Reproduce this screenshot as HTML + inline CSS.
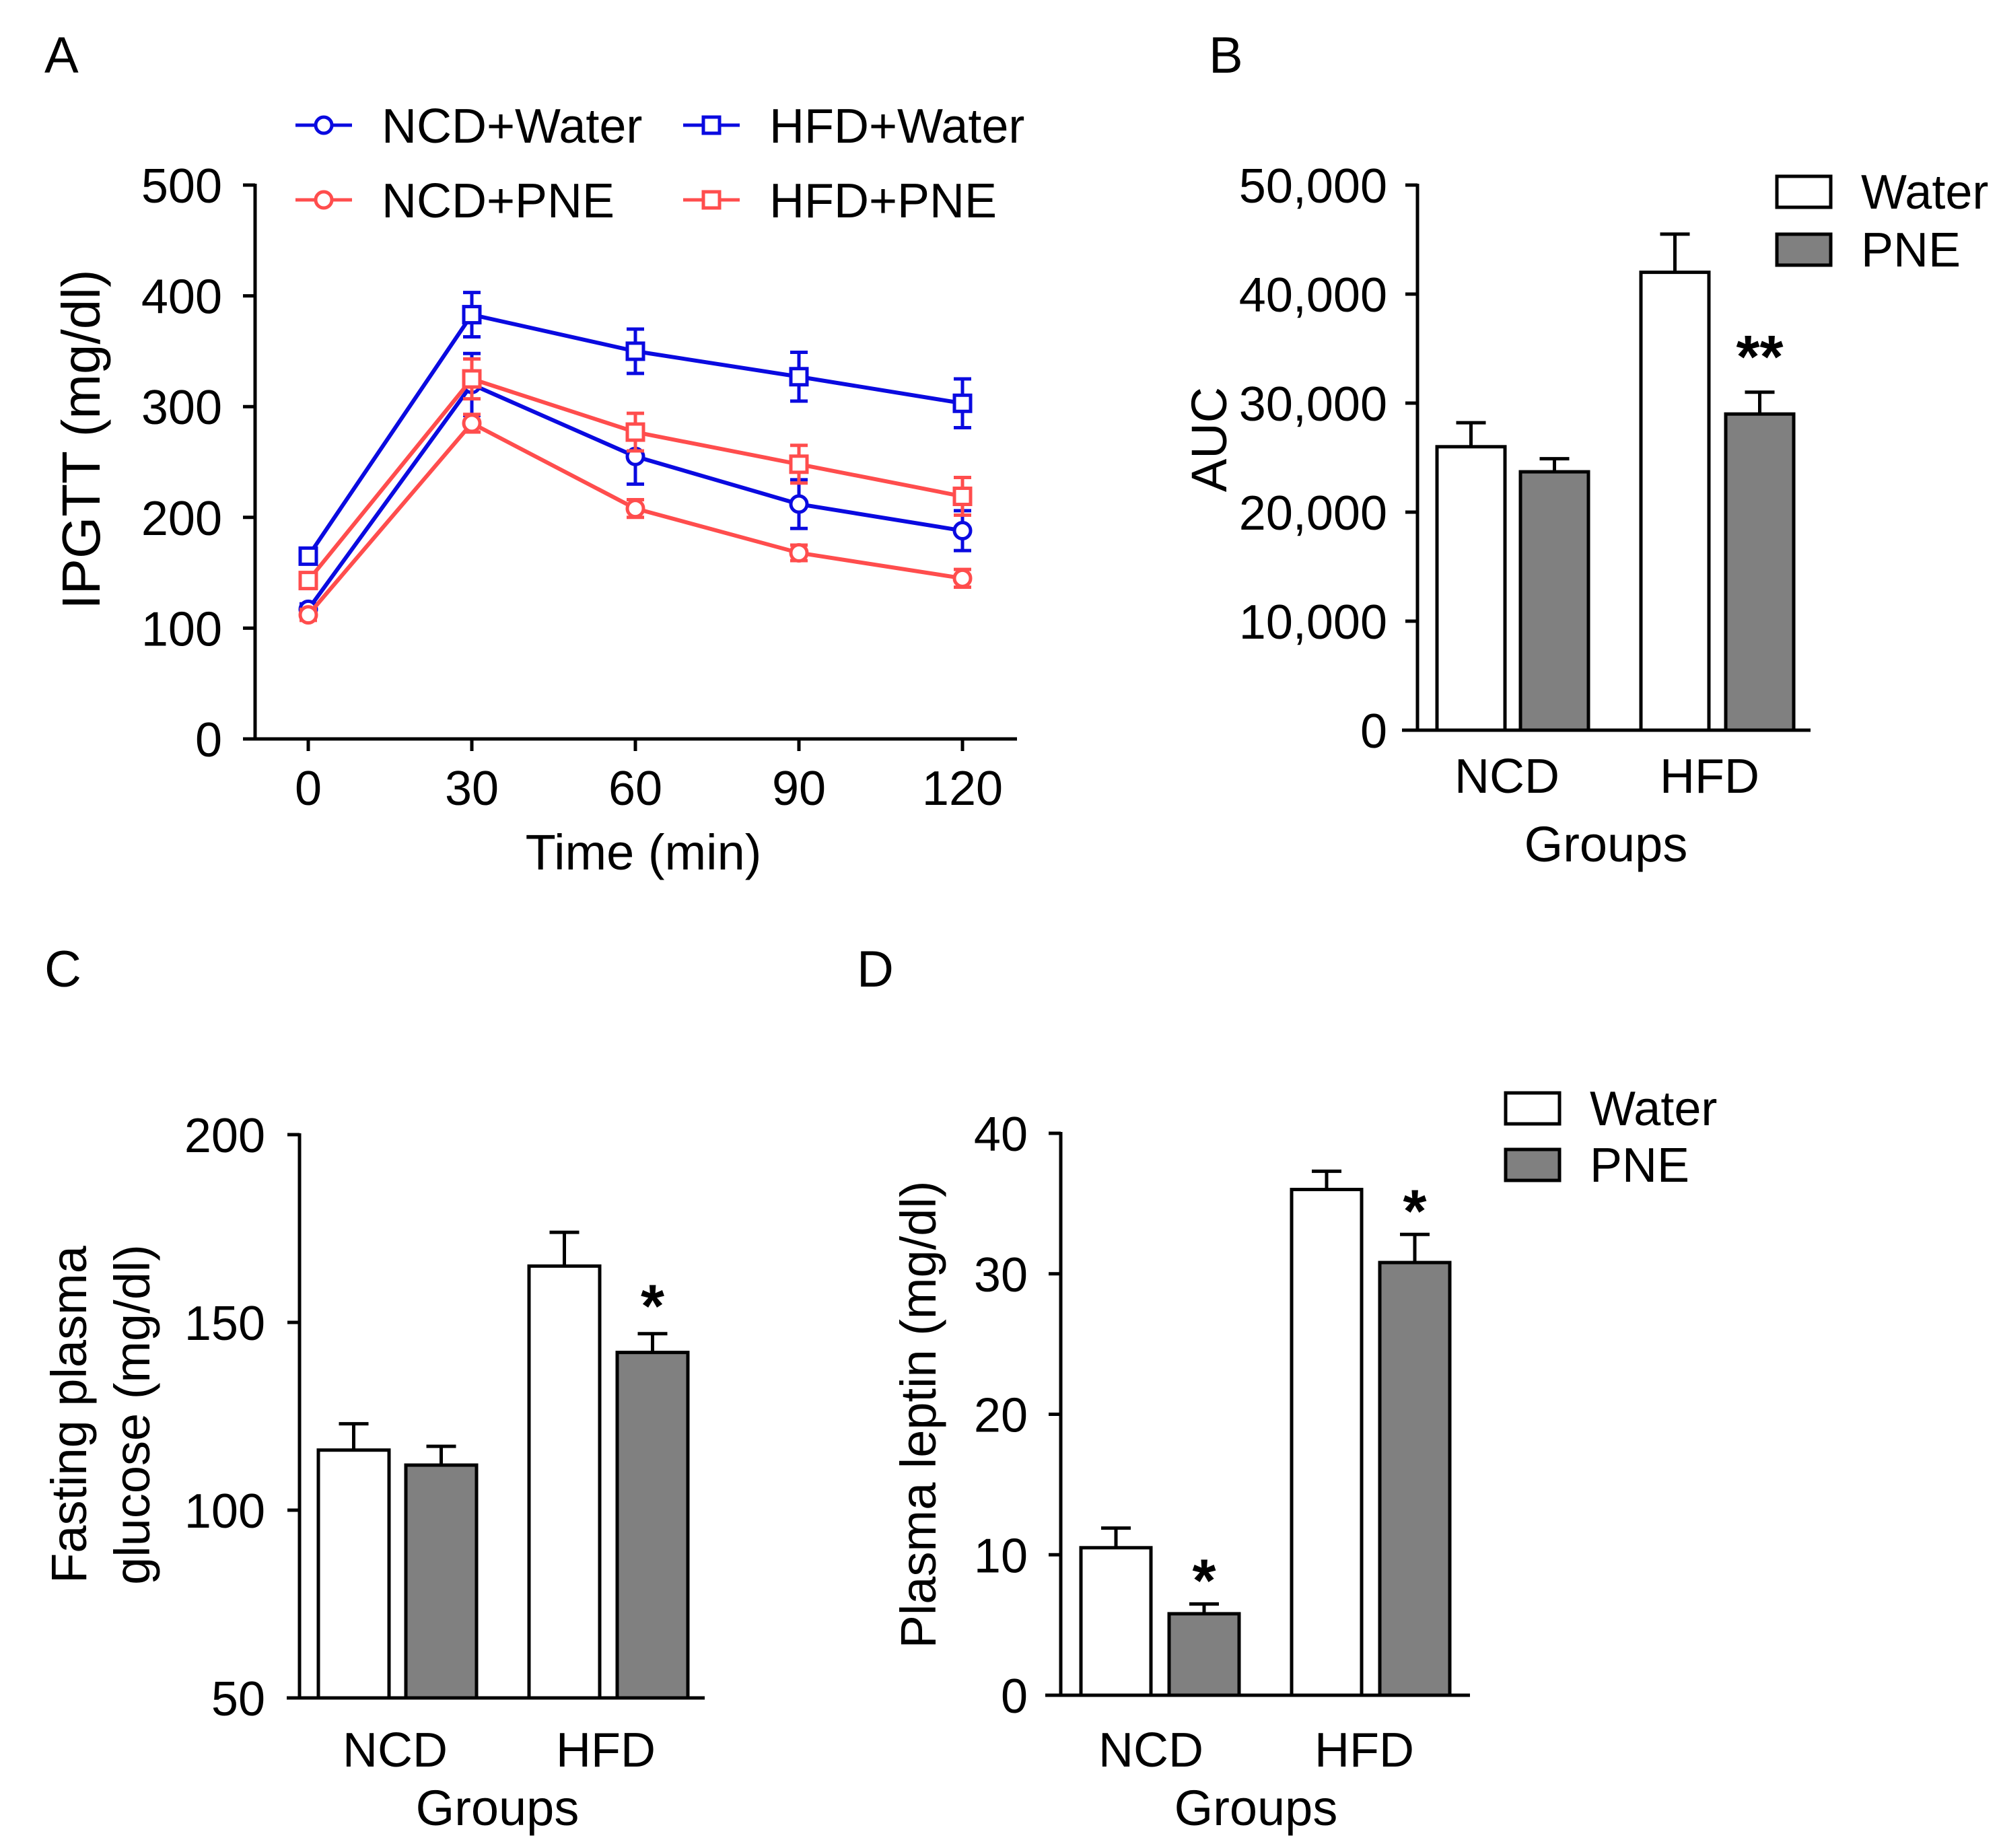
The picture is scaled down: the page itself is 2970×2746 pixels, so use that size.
<!DOCTYPE html>
<html><head><meta charset="utf-8">
<style>
html,body{margin:0;padding:0;background:#fff;}
svg{display:block;font-family:"Liberation Sans",Arial,sans-serif;}
</style></head>
<body>
<svg id="fig" width="2970" height="2746" viewBox="0 0 2970 2746" xmlns="http://www.w3.org/2000/svg"></svg>
<script>
// ---- Panel A data ----
const timePoints = [0, 30, 60, 90, 120];
const ncdWater = [117, 320, 255, 212, 188];
const ncdWaterErr = [5, 28, 25, 22, 18];
const hfdWater = [165, 383, 350, 327, 303];
const hfdWaterErr = [5, 20, 20, 22, 22];
const ncdPne = [112, 285, 208, 168, 145];
const ncdPneErr = [5, 8, 8, 7, 8];
const hfdPne = [143, 325, 277, 248, 219];
const hfdPneErr = [5, 18, 17, 17, 17];
const aTicks = [0, 100, 200, 300, 400, 500];
// ---- Panel B data ----
const groups = ["NCD", "HFD"];
const aucWater = [26000, 42000];
const aucWaterErr = [2200, 3500];
const aucPne = [23700, 29000];
const aucPneErr = [1200, 2000];
const aucStars = ["", "**"];
const bTicks = [0, 10000, 20000, 30000, 40000, 50000];
const bTickLabels = ["0", "10,000", "20,000", "30,000", "40,000", "50,000"];
// ---- Panel C data ----
const gluWater = [116, 165];
const gluWaterErr = [7, 9];
const gluPne = [112, 142];
const gluPneErr = [5, 5];
const gluStars = ["", "*"];
const cTicks = [50, 100, 150, 200];
// ---- Panel D data ----
const lepWater = [10.5, 36];
const lepWaterErr = [1.4, 1.3];
const lepPne = [5.8, 30.8];
const lepPneErr = [0.7, 2];
const lepStars = ["*", "*"];
const dTicks = [0, 10, 20, 30, 40];

const NS = "http://www.w3.org/2000/svg";
const svg = document.getElementById("fig");
function el(tag, attrs, parent, txt) {
  const e = document.createElementNS(NS, tag);
  for (const k in attrs) e.setAttribute(k, attrs[k]);
  if (txt !== undefined) e.textContent = txt;
  (parent || svg).appendChild(e);
  return e;
}
function grp(name) {
  const g = document.createElementNS(NS, "g");
  
  
  svg.appendChild(g);
  return g;
}
function label(g, name, x, y, s, size, anchor, rot) {
  const t = el("text", {x: x, y: y, "font-size": size, "text-anchor": anchor || "middle", fill: "#000"}, g, s);
  if (rot) t.setAttribute("transform", "rotate(-90 " + x + " " + y + ")");
  
  
  return t;
}
const LW = 5;

// ================= Panel A =================
(function () {
  const g = grp("panel-a-ipgtt");
  const x0 = 379, xEnd = 1511, yBase = 1098, yTop = 275;
  const xs = t => 458 + (t / 30) * 243;
  const ys = v => yBase - (v / 500) * (yBase - yTop);
  label(g, "panel-a-letter", 66, 108, "A", 76, "start");
  el("line", {x1: x0, y1: yTop - 2, x2: x0, y2: yBase + 2, stroke: "#000", "stroke-width": LW}, g);
  el("line", {x1: x0 - 2, y1: yBase, x2: xEnd, y2: yBase, stroke: "#000", "stroke-width": LW}, g);
  aTicks.forEach(v => {
    el("line", {x1: x0 - 18, y1: ys(v), x2: x0, y2: ys(v), stroke: "#000", "stroke-width": LW}, g);
    label(g, "y-tick-label", 330, ys(v) + 26, String(v), 72, "end");
  });
  timePoints.forEach(t => {
    el("line", {x1: xs(t), y1: yBase, x2: xs(t), y2: yBase + 18, stroke: "#000", "stroke-width": LW}, g);
    label(g, "x-tick-label", xs(t), 1196, String(t), 72);
  });
  label(g, "x-axis-title", 956, 1292, "Time (min)", 74);
  label(g, "y-axis-title", 148, 653, "IPGTT (mg/dl)", 80, "middle", true);

  const BLUE = "#0a0ae0", RED = "#ff4d4d";
  const series = [
    {name: "ncd-water", vals: ncdWater, err: ncdWaterErr, c: BLUE, m: "circle"},
    {name: "ncd-pne", vals: ncdPne, err: ncdPneErr, c: RED, m: "circle"},
    {name: "hfd-pne", vals: hfdPne, err: hfdPneErr, c: RED, m: "square"},
    {name: "hfd-water", vals: hfdWater, err: hfdWaterErr, c: BLUE, m: "square"}
  ];
  function marker(sg, m, cx, cy, c) {
    if (m === "circle") el("circle", {cx: cx, cy: cy, r: 12, fill: "#fff", stroke: c, "stroke-width": 5}, sg);
    else el("rect", {x: cx - 12, y: cy - 12, width: 24, height: 24, fill: "#fff", stroke: c, "stroke-width": 5}, sg);
  }
  series.forEach(s => {
    const sg = el("g", {}, g);
    
    
    const pts = timePoints.map((t, i) => xs(t) + "," + ys(s.vals[i])).join(" ");
    el("polyline", {points: pts, fill: "none", stroke: s.c, "stroke-width": 6}, sg);
    timePoints.forEach((t, i) => {
      const x = xs(t), yh = ys(s.vals[i] + s.err[i]), yl = ys(s.vals[i] - s.err[i]);
      el("line", {x1: x, y1: yh, x2: x, y2: yl, stroke: s.c, "stroke-width": LW}, sg);
      el("line", {x1: x - 13, y1: yh, x2: x + 13, y2: yh, stroke: s.c, "stroke-width": LW}, sg);
      el("line", {x1: x - 13, y1: yl, x2: x + 13, y2: yl, stroke: s.c, "stroke-width": LW}, sg);
      marker(sg, s.m, x, ys(s.vals[i]), s.c);
    });
  });
  const leg = [
    {t: "NCD+Water", c: BLUE, m: "circle", x: 439, y: 186},
    {t: "NCD+PNE", c: RED, m: "circle", x: 439, y: 297},
    {t: "HFD+Water", c: BLUE, m: "square", x: 1015, y: 186},
    {t: "HFD+PNE", c: RED, m: "square", x: 1015, y: 297}
  ];
  leg.forEach(l => {
    const lg = el("g", {}, g);
    
    
    el("line", {x1: l.x, y1: l.y, x2: l.x + 84, y2: l.y, stroke: l.c, "stroke-width": LW}, lg);
    marker(lg, l.m, l.x + 42, l.y, l.c);
    label(lg, "legend-label", l.x + 128, l.y + 26, l.t, 72, "start");
  });
})();

// ================= Bar panels =================
function barPanel(cfg) {
  const g = grp(cfg.name);
  const ys = v => cfg.yBase - (v - cfg.min) / (cfg.max - cfg.min) * (cfg.yBase - cfg.yTop);
  label(g, "panel-letter", cfg.letter[1], cfg.letter[2], cfg.letter[0], 76, "start");
  el("line", {x1: cfg.ax, y1: cfg.yTop - 2, x2: cfg.ax, y2: cfg.yBase + 2, stroke: "#000", "stroke-width": LW}, g);
  cfg.ticks.forEach((v, i) => {
    el("line", {x1: cfg.ax - 18, y1: ys(v), x2: cfg.ax, y2: ys(v), stroke: "#000", "stroke-width": LW}, g);
    label(g, "y-tick-label", cfg.tickRight, ys(v) + 26, cfg.tickLabels ? cfg.tickLabels[i] : String(v), 72, "end");
  });
  const bw = cfg.barW;
  groups.forEach((gname, i) => {
    [["water", cfg.water, cfg.waterErr, "#fff", cfg.waterX[i]], ["pne", cfg.pne, cfg.pneErr, "#808080", cfg.pneX[i]]].forEach(b => {
      const v = b[1][i], e = b[2][i], x = b[4];
      const bg = el("g", {}, g);
      
      
      const top = ys(v), eh = ys(v + e);
      el("line", {x1: x + bw / 2, y1: top, x2: x + bw / 2, y2: eh, stroke: "#000", "stroke-width": LW}, bg);
      el("line", {x1: x + bw / 2 - 22, y1: eh, x2: x + bw / 2 + 22, y2: eh, stroke: "#000", "stroke-width": LW}, bg);
      el("rect", {x: x, y: top, width: bw, height: cfg.yBase - top, fill: b[3], stroke: "#000", "stroke-width": LW}, bg);
      if (b[0] === "pne" && cfg.stars[i]) {
        const st = label(bg, "significance-star", x + bw / 2, eh + cfg.starOff, cfg.stars[i], 90);
        st.setAttribute("font-weight", "bold");
      }
    });
    label(g, "x-tick-label", cfg.catX[i], cfg.catY, gname, 72);
  });
  el("line", {x1: cfg.xStart, y1: cfg.yBase, x2: cfg.xEnd, y2: cfg.yBase, stroke: "#000", "stroke-width": LW}, g);
  label(g, "x-axis-title", cfg.groupsX, cfg.groupsY, "Groups", 74);
  cfg.ytitle.forEach(t => label(g, "y-axis-title", t[1], cfg.ytitleY, t[0], 74, "middle", true));
  if (cfg.legend) {
    const [lx, ly1, ly2, tx] = cfg.legend;
    [["Water", "#fff", ly1], ["PNE", "#808080", ly2]].forEach(l => {
      const lg = el("g", {}, g);
      
      
      el("rect", {x: lx, y: l[2], width: 80, height: 46, fill: l[1], stroke: "#000", "stroke-width": LW}, lg);
      label(lg, "legend-label", tx, l[2] + 48, l[0], 72, "start");
    });
  }
}

barPanel({name: "panel-b-auc", letter: ["B", 1796, 108], ax: 2106, yTop: 275, yBase: 1085, min: 0, max: 50000,
  ticks: bTicks, tickLabels: bTickLabels, tickRight: 2061, barW: 101, starOff: -22,
  water: aucWater, waterErr: aucWaterErr, pne: aucPne, pneErr: aucPneErr, stars: aucStars,
  waterX: [2135, 2438], pneX: [2259, 2564], catX: [2239, 2540], catY: 1178, xStart: 2083, xEnd: 2690,
  groupsX: 2386, groupsY: 1280, ytitle: [["AUC", 1822]], ytitleY: 653,
  legend: [2640, 262, 348, 2765]});

barPanel({name: "panel-c-glucose", letter: ["C", 66, 1466], ax: 445, yTop: 1686, yBase: 2523, min: 50, max: 200,
  ticks: cTicks, tickRight: 394, barW: 105, starOff: -10,
  water: gluWater, waterErr: gluWaterErr, pne: gluPne, pneErr: gluPneErr, stars: gluStars,
  waterX: [473, 786], pneX: [603, 917], catX: [587, 900], catY: 2625, xStart: 426, xEnd: 1047,
  groupsX: 739, groupsY: 2712, ytitle: [["Fasting plasma", 128], ["glucose (mg/dl)", 222]], ytitleY: 2102});

barPanel({name: "panel-d-leptin", letter: ["D", 1273, 1466], ax: 1576, yTop: 1684, yBase: 2519, min: 0, max: 40,
  ticks: dTicks, tickRight: 1527, barW: 104, starOff: -4,
  water: lepWater, waterErr: lepWaterErr, pne: lepPne, pneErr: lepPneErr, stars: lepStars,
  waterX: [1606, 1919], pneX: [1737, 2050], catX: [1710, 2027], catY: 2625, xStart: 1553, xEnd: 2184,
  groupsX: 1866, groupsY: 2712, ytitle: [["Plasma leptin (mg/dl)", 1390]], ytitleY: 2102,
  legend: [2237, 1624, 1708, 2362]});
</script>
</body></html>
